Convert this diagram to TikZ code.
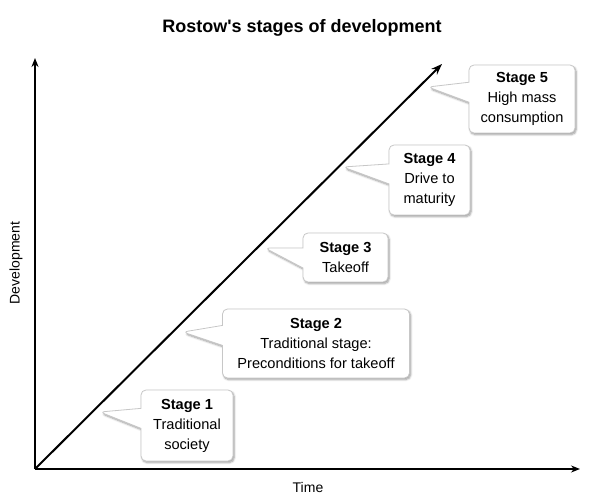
\documentclass[tikz,border=0pt]{standalone}
\usepackage{fontspec}
\setmainfont{Liberation Sans}
\usetikzlibrary{arrows.meta,shapes.callouts,shadows.blur}
\begin{document}
\begin{tikzpicture}[x=1pt,y=-1pt,
  stagebox/.style={rectangle callout, draw=black!22, fill=white, rounded corners=5pt,
    line width=0.8pt, align=center, inner sep=0pt,
    font=\fontsize{14.6}{20}\selectfont,
    callout pointer width=20pt,
    blur shadow={shadow blur steps=6, shadow xshift=1.2pt, shadow yshift=-1.6pt, shadow opacity=40, shadow blur radius=2pt}},
  axis/.style={line width=1.5pt, -{Stealth[length=9pt,width=7pt]}},
  lbl/.style={font=\fontsize{14}{16}\selectfont}]
\useasboundingbox (0,0) rectangle (590,500);
\node[font=\bfseries\fontsize{18}{20}\selectfont] (title) at (302,28) {Rostow\textquotesingle s stages of development};
\coordinate (O) at (35,469);
\coordinate (Ytop) at (35,58);
\coordinate (Xend) at (580,469);
\coordinate (Dend) at (442,64);
\draw[axis] (O) -- (Ytop);
\draw[axis] (O) -- (Xend);
\draw[line width=2pt, -{Stealth[length=11pt,width=8pt]}] (O) -- (Dend);
\node[lbl] (time) at (308,487) {Time};
\node[lbl, rotate=90] (dev) at (16,263) {Development};
\coordinate (t1) at (100,412);
\coordinate (t2) at (183,332);
\coordinate (t3) at (265,248);
\coordinate (t4) at (343,167);
\coordinate (t5) at (428,87);
\node[stagebox, minimum width=92pt, minimum height=71pt, callout absolute pointer={(t1)}] (s1) at (187,425.5) {\textbf{Stage 1}\\Traditional\\society};
\node[stagebox, minimum width=187pt, minimum height=69pt, callout absolute pointer={(t2)}] (s2) at (316,343.5) {\textbf{Stage 2}\\Traditional stage:\\Preconditions for takeoff};
\node[stagebox, minimum width=85pt, minimum height=49pt, callout absolute pointer={(t3)}] (s3) at (345.5,257.5) {\textbf{Stage 3}\\Takeoff};
\node[stagebox, minimum width=81pt, minimum height=70pt, callout absolute pointer={(t4)}] (s4) at (429.5,180) {\textbf{Stage 4}\\Drive to\\maturity};
\node[stagebox, minimum width=106pt, minimum height=68pt, callout absolute pointer={(t5)}] (s5) at (522,99) {\textbf{Stage 5}\\High mass\\consumption};
\end{tikzpicture}
\end{document}
